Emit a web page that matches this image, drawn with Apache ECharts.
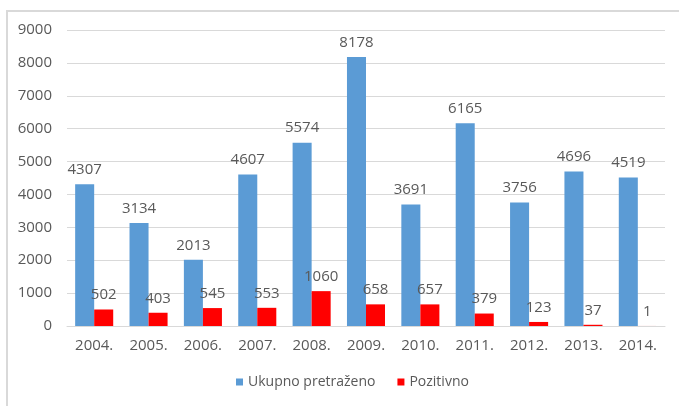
<!DOCTYPE html>
<html lang="hr">
<head>
    <meta charset="UTF-8">
    <title>Ukupno pretraženo / Pozitivno</title>
    <script src="https://cdn.jsdelivr.net/npm/echarts@6/dist/echarts.min.js"></script>
    <style>
        html, body { margin: 0; padding: 0; background: #fff; }
        #frame {
            position: absolute; left: 6px; top: 10px; width: 700px; height: 420px;
            border: 2px solid #d9d9d9; box-sizing: border-box;
        }
        #main { position: absolute; left: 0; top: 0; width: 679px; height: 406px; }
    </style>
</head>
<body>
<div id="frame"></div>
<div id="main"></div>
<script>
    // podaci s grafikona
    var years = ['2004.', '2005.', '2006.', '2007.', '2008.', '2009.', '2010.', '2011.', '2012.', '2013.', '2014.'];
    var ukupno = [4307, 3134, 2013, 4607, 5574, 8178, 3691, 6165, 3756, 4696, 4519];
    var pozitivno = [502, 403, 545, 553, 1060, 658, 657, 379, 123, 37, 1];

    var font = '"Open Sans", "Liberation Sans", sans-serif';
    var grey = '#595959';

    var myChart = echarts.init(document.getElementById('main'));
    var option = {
        animation: false,
        textStyle: { fontFamily: font },
        grid: { left: 67, right: 14, top: 30, bottom: 80 },
        legend: {
            bottom: 12,
            left: 231,
            icon: 'rect',
            itemWidth: 7,
            itemHeight: 7,
            itemGap: 22,
            textStyle: { color: grey, fontSize: 14, fontFamily: font },
            data: ['Ukupno pretraženo', 'Pozitivno']
        },
        xAxis: {
            type: 'category',
            data: years,
            axisTick: { show: false },
            axisLine: { lineStyle: { color: '#d9d9d9', width: 1 } },
            axisLabel: { color: grey, fontSize: 15, margin: 12, fontFamily: font }
        },
        yAxis: {
            type: 'value',
            min: 0,
            max: 9000,
            interval: 1000,
            axisLine: { show: false },
            axisTick: { show: false },
            axisLabel: {
                color: grey, fontSize: 15, margin: 15, fontFamily: font,
                formatter: function (v) { return String(v); }
            },
            splitLine: { lineStyle: { color: '#d9d9d9', width: 1 } }
        },
        series: [
            {
                name: 'Ukupno pretraženo',
                type: 'bar',
                data: ukupno,
                barGap: '0%',
                barCategoryGap: '30%',
                itemStyle: { color: '#5b9bd5' },
                label: { show: true, position: 'top', distance: 7, color: grey, fontSize: 15, fontFamily: font }
            },
            {
                name: 'Pozitivno',
                type: 'bar',
                data: pozitivno,
                barGap: '0%',
                barCategoryGap: '30%',
                itemStyle: { color: '#ff0000' },
                label: { show: true, position: 'top', distance: 7, color: grey, fontSize: 15, fontFamily: font }
            }
        ]
    };
    myChart.setOption(option);
</script>
</body>
</html>
